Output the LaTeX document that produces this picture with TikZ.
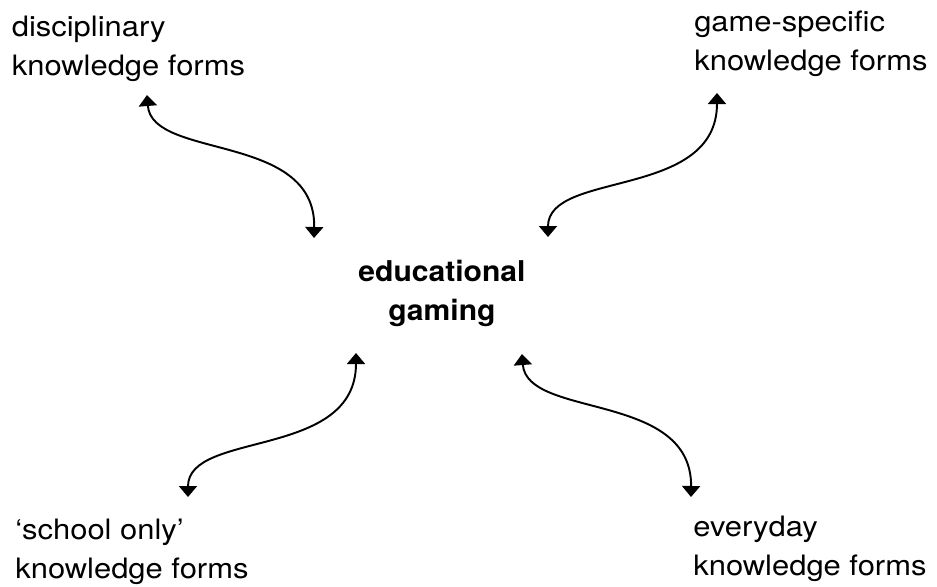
\documentclass[tikz,border=0pt]{standalone}
\usepackage{fontspec}
\setmainfont[FakeStretch=1.1]{TeX Gyre Heros}
\newfontfamily\edufont[FakeStretch=1.05]{TeX Gyre Heros}
\usetikzlibrary{arrows.meta}

\begin{document}
\begin{tikzpicture}[lbl/.style={anchor=base west,align=left,inner sep=0pt,font=\fontsize{16}{21.9}\selectfont},
	link/.style={line width=1.1pt,<->,>={Triangle[width=3.6mm,length=2.2mm]}}]
	\useasboundingbox (0,0) rectangle (18.74,-11.72);
	\node (edu) at (8.84,-6.40) [anchor=base,align=center,inner sep=0pt,font=\edufont\bfseries\fontsize{16.3}{21.9}\selectfont] {educational\\gaming};
	\node (dis) at (0.23,-1.50) [lbl] {disciplinary\\knowledge forms};
	\node (game) at (13.88,-1.40) [lbl] {game-specific\\knowledge forms};
	\node (school) at (0.30,-11.56) [lbl] {‘school only’\\knowledge forms};
	\node (every) at (13.86,-11.50) [lbl] {everyday\\knowledge forms};
	\coordinate (dis-tip) at (2.94,-1.90);
	\coordinate (edu-nw) at (6.28,-4.76);
	\coordinate (game-tip) at (14.34,-1.86);
	\coordinate (edu-ne) at (10.96,-4.74);
	\coordinate (edu-sw) at (7.12,-7.06);
	\coordinate (school-tip) at (3.76,-9.94);
	\coordinate (edu-se) at (10.44,-7.08);
	\coordinate (every-tip) at (13.82,-9.94);
	\draw [link] (dis-tip) .. controls (3.04,-3.20) and (6.32,-2.64) .. (edu-nw);
	\draw [link] (game-tip) .. controls (14.34,-4.00) and (10.96,-3.40) .. (edu-ne);
	\draw [link] (edu-sw) .. controls (7.12,-9.20) and (3.76,-8.60) .. (school-tip);
	\draw [link] (edu-se) .. controls (10.54,-8.38) and (13.84,-7.82) .. (every-tip);
\end{tikzpicture}
\end{document}
